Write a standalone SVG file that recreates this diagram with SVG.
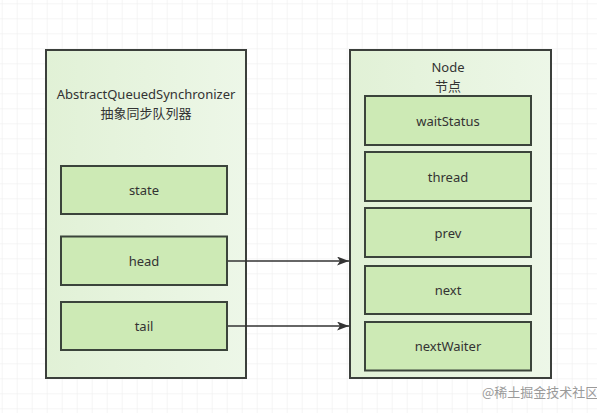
<svg xmlns="http://www.w3.org/2000/svg" width="597" height="413" viewBox="0 0 597 413">
<style>
.outer{stroke:#3b3f3b;stroke-width:2;fill:url(#og)}
.inner{stroke:#3b443b;stroke-width:2;fill:#cdeab5}
.t{font-family:"Noto Sans","Noto Sans CJK SC",sans-serif;font-size:13px;fill:#333;text-anchor:middle;dominant-baseline:central}
.wm{font-family:"Noto Sans CJK SC",sans-serif;font-size:13px;fill:#9a9a9a}
.conn{stroke:#333;stroke-width:1.5;fill:none}
</style>
<defs>
<pattern id="grid" x="1.7" y="3.3" width="15" height="15" patternUnits="userSpaceOnUse">
<path d="M15 0H0V15" fill="none" stroke="#ebebeb" stroke-width="1"/>
</pattern>
<linearGradient id="og" x1="0" y1="0" x2="1" y2="0">
<stop offset="0" stop-color="#e1f1d6"/>
<stop offset="1" stop-color="#edf7e8"/>
</linearGradient>
<marker id="arr" viewBox="0 0 12 9" refX="12" refY="4.5" markerWidth="12" markerHeight="9" markerUnits="userSpaceOnUse" orient="auto">
<path d="M0 0L12 4.5L0 9L3 4.5Z" fill="#333"/>
</marker>
</defs>
<rect width="597" height="413" fill="#fff"/>
<rect width="597" height="413" fill="url(#grid)"/>
<g id="aqs">
<rect class="outer" x="46" y="50" width="200" height="328"/>
<text class="t" x="146" y="94">AbstractQueuedSynchronizer</text>
<text class="t" x="146" y="112.5">抽象同步队列器</text>
</g>
<g id="state"><rect class="inner" x="61" y="166" width="166" height="48"/><text class="t" x="144" y="190">state</text></g>
<g id="head"><rect class="inner" x="61" y="236.5" width="166" height="48.5"/><text class="t" x="144" y="261">head</text></g>
<g id="tail"><rect class="inner" x="61" y="302" width="166" height="48"/><text class="t" x="144" y="326">tail</text></g>
<g id="node">
<rect class="outer" x="350" y="50" width="201" height="328"/>
<text class="t" x="448" y="67">Node</text>
<text class="t" x="448" y="85.5">节点</text>
</g>
<g id="waitStatus"><rect class="inner" x="365" y="96" width="166" height="49"/><text class="t" x="448" y="121">waitStatus</text></g>
<g id="thread"><rect class="inner" x="365" y="152" width="166" height="49"/><text class="t" x="448" y="177">thread</text></g>
<g id="prev"><rect class="inner" x="365" y="208" width="166" height="49"/><text class="t" x="448" y="233">prev</text></g>
<g id="next"><rect class="inner" x="365" y="266" width="166" height="48"/><text class="t" x="448" y="290">next</text></g>
<g id="nextWaiter"><rect class="inner" x="365" y="322" width="166" height="48.5"/><text class="t" x="448" y="346">nextWaiter</text></g>
<g id="connectors">
<line class="conn" x1="228" y1="261" x2="349" y2="261" marker-end="url(#arr)"/>
<line class="conn" x1="228" y1="326" x2="349" y2="326" marker-end="url(#arr)"/>
</g>
<text class="wm" x="482" y="397">@稀土掘金技术社区</text>
</svg>
